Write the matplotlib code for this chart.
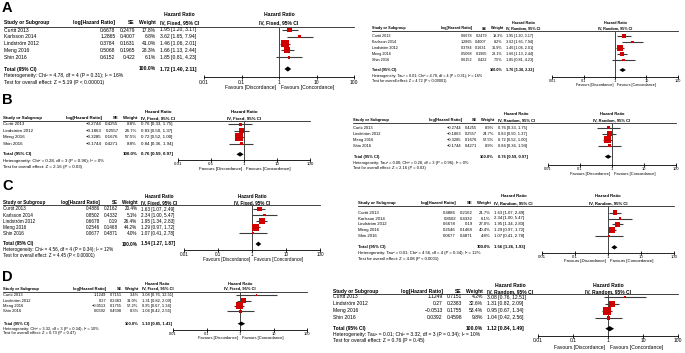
import numpy as np
import matplotlib.pyplot as plt
from matplotlib.textpath import TextPath
from matplotlib.font_manager import FontProperties

plt.rcParams['font.family'] = ['Liberation Sans', 'DejaVu Sans']

W, H = 685, 353

# ---- data --------------------------------------------------------------
studies_a = ['Curtit 2013', 'Karlsson 2014', 'Lindström 2012', 'Meng 2016', 'Shin 2016']
log_hr_a = [0.6678, 1.2865, 0.3784, 0.5068, 0.6152]
se_a = [0.2479, 0.4007, 0.1631, 0.1965, 0.422]
hr_a = [1.95, 3.62, 1.46, 1.66, 1.85]
lo_a = [1.20, 1.65, 1.06, 1.13, 0.81]
hi_a = [3.17, 7.94, 2.01, 2.44, 4.23]
wt_fixed_a = [17.8, 6.8, 41.0, 28.3, 6.1]
wt_random_a = [19.3, 8.2, 36.9, 28.1, 7.5]
total_fixed_a = [1.72, 1.40, 2.11]
total_random_a = [1.76, 1.38, 2.22]
het_fixed_a = 'Heterogeneity: Chi² = 4.78, df = 4 (P = 0.31); I² = 16%'
het_random_a = 'Heterogeneity: Tau² = 0.01; Chi² = 4.78, df = 4 (P = 0.31); I² = 16%'
z_fixed_a = 'Test for overall effect: Z = 5.19 (P < 0.00001)'
z_random_a = 'Test for overall effect: Z = 4.72 (P < 0.00001)'

studies_b = ['Curtit 2013', 'Lindström 2012', 'Meng 2016', 'Shin 2016']
log_hr_b = [-0.2744, -0.1863, -0.3285, -0.1744]
se_b = [0.4255, 0.2557, 0.1676, 0.4271]
hr_b = [0.76, 0.83, 0.72, 0.84]
lo_b = [0.33, 0.50, 0.52, 0.36]
hi_b = [1.75, 1.37, 1.00, 1.94]
wt_fixed_b = [8.8, 24.7, 57.5, 8.8]
wt_random_b = [8.9, 24.7, 57.5, 8.9]
total_fixed_b = [0.76, 0.59, 0.97]
total_random_b = [0.76, 0.59, 0.97]
het_fixed_b = 'Heterogeneity: Chi² = 0.28, df = 3 (P = 0.96); I² = 0%'
het_random_b = 'Heterogeneity: Tau² = 0.00; Chi² = 0.28, df = 3 (P = 0.96); I² = 0%'
z_fixed_b = 'Test for overall effect: Z = 2.16 (P = 0.03)'
z_random_b = 'Test for overall effect: Z = 2.16 (P = 0.03)'

studies_c = ['Curtit 2013', 'Karlsson 2014', 'Lindström 2012', 'Meng 2016', 'Shin 2016']
log_hr_c = [0.4886, 0.8502, 0.6678, 0.2546, 0.0677]
se_c = [0.2162, 0.4332, 0.19, 0.1468, 0.4871]
hr_c = [1.63, 2.34, 1.95, 1.29, 1.07]
lo_c = [1.07, 1.00, 1.34, 0.97, 0.41]
hi_c = [2.49, 5.47, 2.83, 1.72, 2.78]
wt_fixed_c = [20.4, 5.1, 26.4, 44.2, 4.0]
wt_random_c = [21.7, 6.1, 27.0, 40.4, 4.8]
total_fixed_c = [1.54, 1.27, 1.87]
total_random_c = [1.56, 1.26, 1.93]
het_fixed_c = 'Heterogeneity: Chi² = 4.56, df = 4 (P = 0.34); I² = 12%'
het_random_c = 'Heterogeneity: Tau² = 0.01; Chi² = 4.56, df = 4 (P = 0.34); I² = 12%'
z_fixed_c = 'Test for overall effect: Z = 4.45 (P < 0.00001)'
z_random_c = 'Test for overall effect: Z = 4.08 (P < 0.0001)'

studies_d = ['Curtit 2013', 'Lindström 2012', 'Meng 2016', 'Shin 2016']
log_hr_d = [1.1249, 0.27, -0.0513, 0.0392]
se_d = [0.7151, 0.2383, 0.1755, 0.4598]
hr_d = [3.08, 1.31, 0.95, 1.04]
lo_d = [0.76, 0.82, 0.67, 0.42]
hi_d = [12.51, 2.09, 1.34, 2.56]
wt_fixed_d = [3.4, 31.0, 57.2, 8.3]
wt_random_d = [4.2, 32.6, 53.4, 9.8]
total_fixed_d = [1.10, 0.85, 1.43]
total_random_d = [1.12, 0.84, 1.49]
het_fixed_d = 'Heterogeneity: Chi² = 3.32, df = 3 (P = 0.34); I² = 10%'
het_random_d = 'Heterogeneity: Tau² = 0.01; Chi² = 3.32, df = 3 (P = 0.34); I² = 10%'
z_fixed_d = 'Test for overall effect: Z = 0.73 (P = 0.47)'
z_random_d = 'Test for overall effect: Z = 0.76 (P = 0.45)'

ticks = [0.01, 0.1, 1, 10, 100]
tick_labels = ['0.01', '0.1', '1', '10', '100']

# ---- layout of the eight panels (pixel positions in the 685x353 image) --
panels = [
    dict(lab='A', model='Fixed', rows=(studies_a, log_hr_a, se_a, hr_a, lo_a, hi_a, wt_fixed_a),
         tot=total_fixed_a, het=het_fixed_a, z=z_fixed_a,
         x0=4, ci=199, one=279, dec=37.5,
         y_hdr=15, y_col=22.5, y_line=27, y_row=30, dy=6.8, y_tot=69, y_het=76, y_z=82.5,
         y_axis=77, y_fav=87, fs=1.0, lab_y=8),
    dict(lab=None, model='Random', rows=(studies_a, log_hr_a, se_a, hr_a, lo_a, hi_a, wt_random_a),
         tot=total_random_a, het=het_random_a, z=z_random_a,
         x0=372, ci=541, one=615, dec=31.3,
         y_hdr=23, y_col=28.5, y_line=31, y_row=36, dy=6, y_tot=70, y_het=76, y_z=81,
         y_axis=77, y_fav=85, fs=0.76),
    dict(lab='B', model='Fixed', rows=(studies_b, log_hr_b, se_b, hr_b, lo_b, hi_b, wt_fixed_b),
         tot=total_fixed_b, het=het_fixed_b, z=z_fixed_b,
         x0=3, ci=175, one=244, dec=33,
         y_hdr=112, y_col=118, y_line=121, y_row=124.3, dy=6.5, y_tot=154.3, y_het=161, y_z=166.7,
         y_axis=160, y_fav=169, fs=0.88, lab_y=100),
    dict(lab=None, model='Random', rows=(studies_b, log_hr_b, se_b, hr_b, lo_b, hi_b, wt_random_b),
         tot=total_random_b, het=het_random_b, z=z_random_b,
         x0=353, ci=534, one=612, dec=32,
         y_hdr=114, y_col=120, y_line=122.5, y_row=127.7, dy=6, y_tot=156.7, y_het=162.7, y_z=168.3,
         y_axis=165, y_fav=174, fs=0.8),
    dict(lab='C', model='Fixed', rows=(studies_c, log_hr_c, se_c, hr_c, lo_c, hi_c, wt_fixed_c),
         tot=total_fixed_c, het=het_fixed_c, z=z_fixed_c,
         x0=3, ci=177, one=252, dec=34,
         y_hdr=196, y_col=202.3, y_line=205, y_row=209, dy=6.1, y_tot=244, y_het=250, y_z=255.7,
         y_axis=250, y_fav=259.3, fs=0.92, lab_y=186),
    dict(lab=None, model='Random', rows=(studies_c, log_hr_c, se_c, hr_c, lo_c, hi_c, wt_random_c),
         tot=total_random_c, het=het_random_c, z=z_random_c,
         x0=358, ci=533, one=608, dec=33,
         y_hdr=195.7, y_col=203.3, y_line=205.7, y_row=212.7, dy=5.8, y_tot=247.3, y_het=253.3, y_z=259.3,
         y_axis=252.7, y_fav=260.7, fs=0.85),
    dict(lab='D', model='Fixed', rows=(studies_d, log_hr_d, se_d, hr_d, lo_d, hi_d, wt_fixed_d),
         tot=total_fixed_d, het=het_fixed_d, z=z_fixed_d,
         x0=3, ci=173, one=240, dec=33.5,
         y_hdr=283.7, y_col=288.7, y_line=291.5, y_row=295.3, dy=5.3, y_tot=323.7, y_het=328.7, y_z=333,
         y_axis=330.3, y_fav=338, fs=0.8, lab_y=277),
    dict(lab=None, model='Random', rows=(studies_d, log_hr_d, se_d, hr_d, lo_d, hi_d, wt_random_d),
         tot=total_random_d, het=het_random_d, z=z_random_d,
         x0=333, ci=533, one=608, dec=35,
         y_hdr=285.3, y_col=291.3, y_line=293.7, y_row=297, dy=6.9, y_tot=328.7, y_het=334.7, y_z=340.3,
         y_axis=336, y_fav=347, fs=1.0),
]

BASE = 3.6
RED = '#d00000'
FP = FontProperties(family='Liberation Sans')
FPB = FontProperties(family='Liberation Sans', weight='bold')


def fmt(v):
    return f'{v:g}'.replace('-', '\u2212')


def width_px(strings, size, bold=False):
    fp = FPB if bold else FP
    return max(TextPath((0, 0), s, size=size, prop=fp).get_extents().width for s in strings) * 100 / 72


fig = plt.figure(figsize=(W / 100, H / 100), dpi=100)
bg = fig.add_axes([0, 0, 1, 1])
bg.set_xlim(0, W)
bg.set_ylim(H, 0)
bg.axis('off')

for p in panels:
    names, lhr, se, hr, lo, hi, wt = p['rows']
    fs = BASE * p['fs']
    gap = 4.5 * p['fs']
    ci_hdr = 'IV, %s, 95%% CI' % p['model']
    th, tl, tu = p['tot']
    ci_txt = [f'{h:.2f} [{l:.2f}, {u:.2f}]' for h, l, u in zip(hr, lo, hi)]
    tot_txt = f'{th:.2f} [{tl:.2f}, {tu:.2f}]'
    wt_txt = [f'{w:.1f}%' for w in wt]

    # columns packed right to left from the CI column edge
    ci_w = max(width_px(ci_txt, fs), width_px([ci_hdr, tot_txt, 'Hazard Ratio'], fs, True))
    x_wt = p['ci'] - ci_w - gap
    x_se = x_wt - max(width_px(wt_txt, fs), width_px(['Weight', '100.0%'], fs, True)) - gap
    x_lhr = x_se - width_px([fmt(s) for s in se], fs) - gap
    x_end = p['one'] + 2 * p['dec']

    if p['lab']:
        bg.text(2, p['lab_y'], p['lab'], fontsize=10.5, fontweight='bold', va='center', ha='left')

    bold = dict(fontsize=fs, fontweight='bold', va='center')
    norm = dict(fontsize=fs, va='center')
    bg.text(p['ci'] - ci_w / 2, p['y_hdr'], 'Hazard Ratio', ha='center', **bold)
    bg.text(p['x0'], p['y_col'], 'Study or Subgroup', ha='left', **bold)
    bg.text(x_lhr, p['y_col'], 'log[Hazard Ratio]', ha='right', **bold)
    bg.text(x_se, p['y_col'], 'SE', ha='right', **bold)
    bg.text(x_wt, p['y_col'], 'Weight', ha='right', **bold)
    bg.text(p['ci'] - ci_w, p['y_col'], ci_hdr, ha='left', **bold)
    bg.text(p['one'], p['y_hdr'], 'Hazard Ratio', ha='center', **bold)
    bg.text(p['one'], p['y_col'], ci_hdr, ha='center', **bold)
    bg.plot([p['x0'], x_end], [p['y_line'], p['y_line']], color='#222222', lw=0.6)

    ys = [p['y_row'] + i * p['dy'] for i in range(len(names))]
    for y, n, a, s, w, c in zip(ys, names, lhr, se, wt_txt, ci_txt):
        bg.text(p['x0'], y, n, ha='left', **norm)
        bg.text(x_lhr, y, fmt(a), ha='right', **norm)
        bg.text(x_se, y, fmt(s), ha='right', **norm)
        bg.text(x_wt, y, w, ha='right', **norm)
        bg.text(p['ci'] - ci_w, y, c, ha='left', **norm)

    bg.text(p['x0'], p['y_tot'], 'Total (95% CI)', ha='left', **bold)
    bg.text(x_wt, p['y_tot'], '100.0%', ha='right', **bold)
    bg.text(p['ci'] - ci_w, p['y_tot'], tot_txt, ha='left', **bold)
    bg.text(p['x0'], p['y_het'], p['het'], ha='left', **norm)
    bg.text(p['x0'], p['y_z'], p['z'], ha='left', **norm)
    bg.text(p['one'] - 2.5 * p['fs'], p['y_fav'], 'Favours [Discordance]', ha='right', **norm)
    bg.text(p['one'] + 2.5 * p['fs'], p['y_fav'], 'Favours [Concordance]', ha='left', **norm)

    # forest plot on a log hazard-ratio axis
    left = p['one'] - 2 * p['dec']
    top, bottom = p['y_line'], p['y_axis']
    ax = fig.add_axes([left / W, 1 - bottom / H, 4 * p['dec'] / W, (bottom - top) / H])
    ax.set_xscale('log')
    ax.set_xlim(0.01, 100)
    ax.set_ylim(bottom, top)
    ax.patch.set_alpha(0)
    for side in ['top', 'right', 'left']:
        ax.spines[side].set_visible(False)
    ax.spines['bottom'].set_linewidth(0.6)
    ax.set_yticks([])
    ax.set_xticks(ticks)
    ax.set_xticklabels(tick_labels)
    ax.minorticks_off()
    ax.tick_params(axis='x', direction='inout', length=3 * p['fs'], width=0.6,
                   labelsize=fs, pad=0.3)
    ax.axvline(1, color='#444444', lw=0.7)

    ax.hlines(ys, lo, hi, color='#3c3c3c', lw=0.8)
    side_pt = 1.15 * np.sqrt(wt) * p['fs'] * 0.72
    ax.scatter(hr, ys, s=side_pt ** 2, marker='s', color=RED, lw=0, zorder=3)

    dh = 2.6 * p['fs']
    ax.fill([tl, th, tu, th], [p['y_tot'], p['y_tot'] - dh, p['y_tot'], p['y_tot'] + dh],
            color='black', lw=0, zorder=3)

fig.savefig('out.png', dpi=100)
